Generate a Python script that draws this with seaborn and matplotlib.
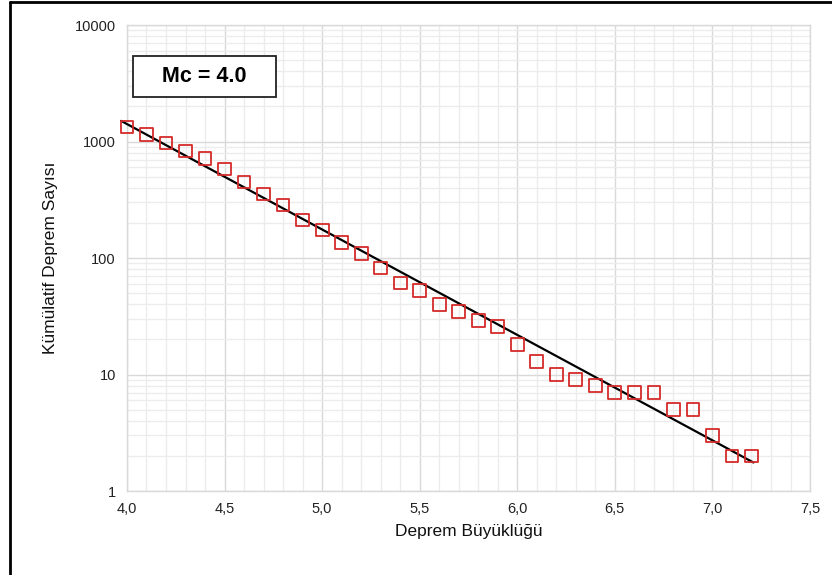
import numpy as np
import pandas as pd
import matplotlib.pyplot as plt
import seaborn as sns
from matplotlib.ticker import FuncFormatter, LogLocator, MultipleLocator
from matplotlib.lines import Line2D
from matplotlib.patches import Rectangle

# magnitude bins and cumulative counts
magnitude = [4.0, 4.1, 4.2, 4.3, 4.4, 4.5, 4.6, 4.7, 4.8, 4.9,
             5.0, 5.1, 5.2, 5.3, 5.4, 5.5, 5.6, 5.7, 5.8, 5.9,
             6.0, 6.1, 6.2, 6.3, 6.4, 6.5, 6.6, 6.7, 6.8, 6.9,
             7.0, 7.1, 7.2]
cum_count = [1330, 1140, 970, 830, 710, 580, 450, 355, 285, 212,
             174, 137, 110, 82, 61, 53, 40, 35, 29, 26,
             18, 13, 10, 9, 8, 7, 7, 7, 5, 5,
             3, 2, 2]

# Gutenberg-Richter fit: log10(N) = a - b*M
gr_a = 6.77
gr_b = 0.905
fit_range = [3.97, 7.21]
mc_label = "Mc = 4.0"

x_ticks = [4.0, 4.5, 5.0, 5.5, 6.0, 6.5, 7.0, 7.5]
y_ticks = [1, 10, 100, 1000, 10000]

sns.set_style("white")
plt.rcParams['font.family'] = ['Liberation Sans', 'DejaVu Sans']

df = pd.DataFrame({'M': magnitude, 'N': cum_count})
fit_df = pd.DataFrame({'M': fit_range})
fit_df['N'] = 10 ** (gr_a - gr_b * fit_df['M'])

fig = plt.figure(figsize=(8.32, 5.75), dpi=100)
ax = fig.add_axes([0.1526, 0.146, 0.821, 0.8105])

ax.set_yscale('log')
ax.set_xlim(4.0, 7.5)
ax.set_ylim(1, 10000)

ax.set_xticks(x_ticks)
ax.xaxis.set_minor_locator(MultipleLocator(0.1))
ax.yaxis.set_minor_locator(LogLocator(base=10, subs=np.arange(2, 10), numticks=50))
ax.set_yticks(y_ticks)
ax.xaxis.set_major_formatter(FuncFormatter(lambda v, p: f"{v:.1f}".replace('.', ',')))
ax.yaxis.set_major_formatter(FuncFormatter(lambda v, p: f"{int(round(v))}"))
ax.yaxis.set_minor_formatter(FuncFormatter(lambda v, p: ""))

ax.grid(which='major', color='#d9d9d9', linewidth=1.0)
ax.grid(which='minor', color='#ececec', linewidth=1.0)
ax.set_axisbelow(True)
for s in ax.spines.values():
    s.set_color('#d9d9d9')
    s.set_linewidth(1.0)
ax.tick_params(which='both', length=0, labelsize=10.5, colors='#222222', pad=8)

sns.lineplot(data=fit_df, x='M', y='N', ax=ax, color='black', linewidth=1.6, zorder=3, clip_on=False)
sns.scatterplot(data=df, x='M', y='N', ax=ax, marker='s', s=85, clip_on=False,
                facecolor='none', edgecolor='#d42a2a', linewidth=1.3, zorder=4)

ax.set_xlabel('Deprem Büyüklüğü', fontsize=12.5, color='#111111', labelpad=6)
ax.set_ylabel('Kümülatif Deprem Sayısı', fontsize=12.5, color='#111111', labelpad=12)

# Mc annotation box
ax.add_patch(Rectangle((0.0088, 0.8455), 0.209, 0.088, transform=ax.transAxes,
                       facecolor='white', edgecolor='#222222', linewidth=1.3, zorder=5))
ax.text(0.1135, 0.889, mc_label, transform=ax.transAxes, ha='center', va='center',
        fontsize=15.5, fontweight='bold', color='black', zorder=6)

# outer frame (left and top edges visible)
fig.add_artist(Line2D([10 / 832, 10 / 832], [0, 1 - 2 / 575], transform=fig.transFigure, color='black', linewidth=2))
fig.add_artist(Line2D([10 / 832, 1], [1 - 2 / 575, 1 - 2 / 575], transform=fig.transFigure, color='black', linewidth=2))

fig.savefig('out.png', dpi=100)
